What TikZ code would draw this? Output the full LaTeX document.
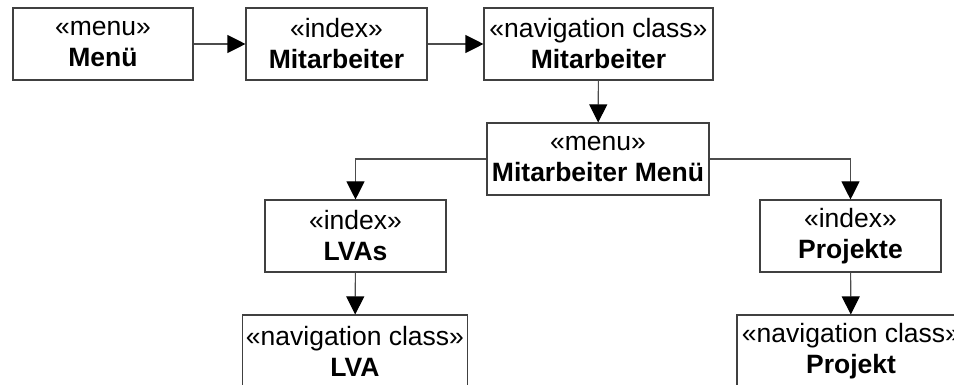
\documentclass[tikz,border=0pt]{standalone}
\usepackage{fontspec}
\setmainfont{Liberation Sans}
\usetikzlibrary{arrows.meta}
\tikzset{
  umlbox/.style={draw=black!75, line width=1.1pt, fill=white, minimum height=72pt,
    inner sep=0pt, align=center, font=\fontsize{26.5}{31}\selectfont},
  flow/.style={draw=black!70, line width=1.1pt,
    -{Triangle[length=18pt,width=18pt,color=black,fill=black]}}
}
\begin{document}
\begin{tikzpicture}[x=1pt,y=-1pt]
  \useasboundingbox (0,0) rectangle (954,385);
  \clip (0,0) rectangle (954,385);
  \fill[white] (0,0) rectangle (954,385);
  % first row
  \node[umlbox, minimum width=180pt] (menu) at (103,44) {«menu»\\\textbf{Menü}};
  \node[umlbox, minimum width=181pt] (idx) at (336.5,44) {«index»\\\textbf{Mitarbeiter}};
  \node[umlbox, minimum width=229pt] (nav) at (598.5,44) {«navigation class»\\\textbf{Mitarbeiter}};
  % staff menu
  \node[umlbox, minimum width=222pt] (mm) at (598,159) {«menu»\\\textbf{Mitarbeiter Menü}};
  % branches
  \node[umlbox, minimum width=181pt] (lvas) at (355.5,236) {«index»\\\textbf{LVAs}};
  \node[umlbox, minimum width=181pt] (proj) at (850.5,236) {«index»\\\textbf{Projekte}};
  \node[umlbox, minimum width=225pt] (lva) at (355,351) {«navigation class»\\\textbf{LVA}};
  \node[umlbox, minimum width=228pt] (projekt) at (851,351) {«navigation class»\\\textbf{Projekt}};
  % connectors
  \draw[flow] (menu) -- (idx);
  \draw[flow] (idx) -- (nav);
  \draw[flow] (nav) -- (mm);
  \draw[flow] (mm.west) -| (lvas.north);
  \draw[flow] (mm.east) -| (proj.north);
  \draw[flow] (lvas) -- (lva);
  \draw[flow] (proj) -- (projekt);
\end{tikzpicture}
\end{document}
